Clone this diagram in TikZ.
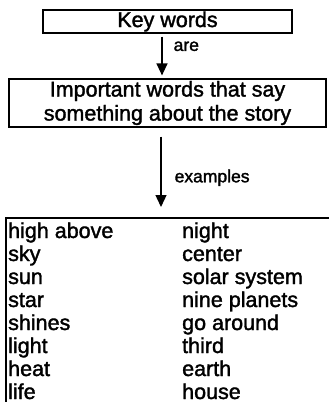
\documentclass[tikz,border=0pt]{standalone}
\usepackage{fontspec}
\setmainfont{Liberation Sans}[FakeBold=1.6]
\usetikzlibrary{arrows.meta}

\tikzset{
  box/.style={shape=rectangle,draw=black,align=center,line width=1.2pt,inner sep=0pt,font=\fontsize{21.5}{24}\selectfont},
  word/.style={anchor=base west,inner sep=0pt,font=\fontsize{21.5}{24}\selectfont},
  lbl/.style={anchor=west,inner sep=0pt,font=\fontsize{17.5}{20}\selectfont},
  arr/.style={-{Triangle[length=12pt,width=11pt]},draw=black,line width=1.3pt}
}

\begin{document}
\begin{tikzpicture}[x=1pt,y=-1pt]
\useasboundingbox (0,0) rectangle (329,402);
\node[box,minimum width=249pt,minimum height=23pt] (key) at (167.5,21.5) {Key words};
\node[box,minimum width=317pt,minimum height=48pt] (imp) at (167.5,103) {Important words that say\\something about the story};
\node[box,anchor=north west,line width=1.6pt,minimum width=345pt,minimum height=205pt] (list) at (5,217) {};

\node[word] (w1) at (8,238) {high above};
\node[word] (w2) at (8,261) {sky};
\node[word] (w3) at (8,284) {sun};
\node[word] (w4) at (8,307) {star};
\node[word] (w5) at (8,330) {shines};
\node[word] (w6) at (8,353) {light};
\node[word] (w7) at (8,376) {heat};
\node[word] (w8) at (8,399) {life};
\node[word] (w9) at (182,238) {night};
\node[word] (w10) at (182,261) {center};
\node[word] (w11) at (182,284) {solar system};
\node[word] (w12) at (182,307) {nine planets};
\node[word] (w13) at (182,330) {go around};
\node[word] (w14) at (182,353) {third};
\node[word] (w15) at (182,376) {earth};
\node[word] (w16) at (182,399) {house};

\draw [arr] ([xshift=-5.5pt,yshift=-3pt]key.south) -- node[lbl,pos=0.25,xshift=11pt] {are} ([xshift=-5.5pt,yshift=3pt]imp.north);
\draw [arr] ([xshift=-6.5pt,yshift=-9pt]imp.south) -- node[lbl,pos=0.585,xshift=13pt] {examples} ([xshift=-6.5pt,yshift=10pt]list.north west -| imp.south);
\end{tikzpicture}
\end{document}
